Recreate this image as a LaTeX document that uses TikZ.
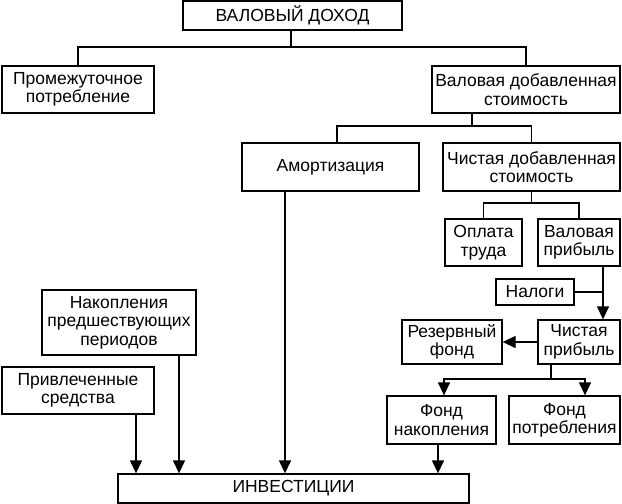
\documentclass[tikz,border=0pt]{standalone}
\usepackage{fontspec}
\setmainfont{Liberation Sans}
\usetikzlibrary{arrows.meta}
\begin{document}
\begin{tikzpicture}[x=1pt,y=-1pt,
  box/.style={draw, line width=1.3pt, inner sep=0pt, align=center,
    font=\fontsize{17.5}{18.5}\selectfont},
  conn/.style={line width=1.3pt},
  arr/.style={line width=1.3pt, -{Triangle[length=13pt,width=12pt]}}]
\useasboundingbox[fill=white] (0,0) rectangle (622,504);
% boxes
\node[box, minimum width=219pt, minimum height=29pt] (top) at (292.5,15.5) {ВАЛОВЫЙ ДОХОД};
\node[box, minimum width=152pt, minimum height=47pt] (prom) at (78,89.5) {Промежуточное\\потребление};
\node[box, minimum width=188pt, minimum height=47pt] (vds) at (526,89.5) {Валовая добавленная\\стоимость};
\node[box, minimum width=177pt, minimum height=48pt] (amort) at (330.5,167) {Амортизация};
\node[box, minimum width=177pt, minimum height=48pt] (chds) at (531.5,167) {Чистая добавленная\\стоимость};
\node[box, minimum width=77pt, minimum height=47pt] (opl) at (483.5,242.5) {Оплата\\труда};
\node[box, minimum width=82pt, minimum height=47pt] (vp) at (579,242.5) {Валовая\\прибыль};
\node[box, minimum width=78pt, minimum height=26pt] (nal) at (535,292) {Налоги};
\node[box, minimum width=82pt, minimum height=44pt] (chp) at (579,342) {Чистая\\прибыль};
\node[box, minimum width=100pt, minimum height=44pt] (rez) at (452,342) {Резервный\\фонд};
\node[box, minimum width=154pt, minimum height=65pt] (nak) at (119,322.5) {Накопления\\предшествующих\\периодов};
\node[box, minimum width=152pt, minimum height=47pt] (priv) at (78,390.5) {Привлеченные\\средства};
\node[box, minimum width=109pt, minimum height=48pt] (fn) at (441.5,420) {Фонд\\накопления};
\node[box, minimum width=111pt, minimum height=48pt] (fp) at (564.5,420) {Фонд\\потребления};
\node[box, minimum width=351pt, minimum height=29pt] (inv) at (293.5,488.5) {ИНВЕСТИЦИИ};
% junction coordinates
\coordinate (j0) at (291,47);
\coordinate (j1) at (472,126);
\coordinate (j1l) at (337,126);
\coordinate (j2) at (532,203);
\coordinate (k) at (603,0);
\coordinate (j3) at (551,379);
\coordinate (j3l) at (444,379);
\coordinate (j3r) at (585,379);
\coordinate (xa) at (285,0);
\coordinate (xn) at (179,0);
\coordinate (xp) at (136,0);
\coordinate (xf) at (438,0);
% connectors
\draw[conn] (top.south -| j0) -- (j0) -| (prom.north);
\draw[conn] (j0) -| (vds.north);
\draw[conn] (vds.south -| j1) -- (j1) -- (j1l) -- (amort.north -| j1l);
\draw[conn] (j1) -| (chds.north);
\draw[conn] (chds.south) -- (chds.south |- j2) -| (opl.north);
\draw[conn] (chds.south |- j2) -| (vp.north);
\draw[arr] (vp.south -| k) -- (chp.north -| k);
\draw[conn] (nal.east) -- (nal.east -| k);
\draw[arr] (chp.west) -- (rez.east);
\draw[conn] (chp.south -| j3) -- (j3);
\draw[arr] (j3) -- (j3l) -- (fn.north -| j3l);
\draw[arr] (j3) -- (j3r) -- (fp.north -| j3r);
\draw[arr] (amort.south -| xa) -- (inv.north -| xa);
\draw[arr] (nak.south -| xn) -- (inv.north -| xn);
\draw[arr] (priv.south -| xp) -- (inv.north -| xp);
\draw[arr] (fn.south -| xf) -- (inv.north -| xf);
\end{tikzpicture}
\end{document}
